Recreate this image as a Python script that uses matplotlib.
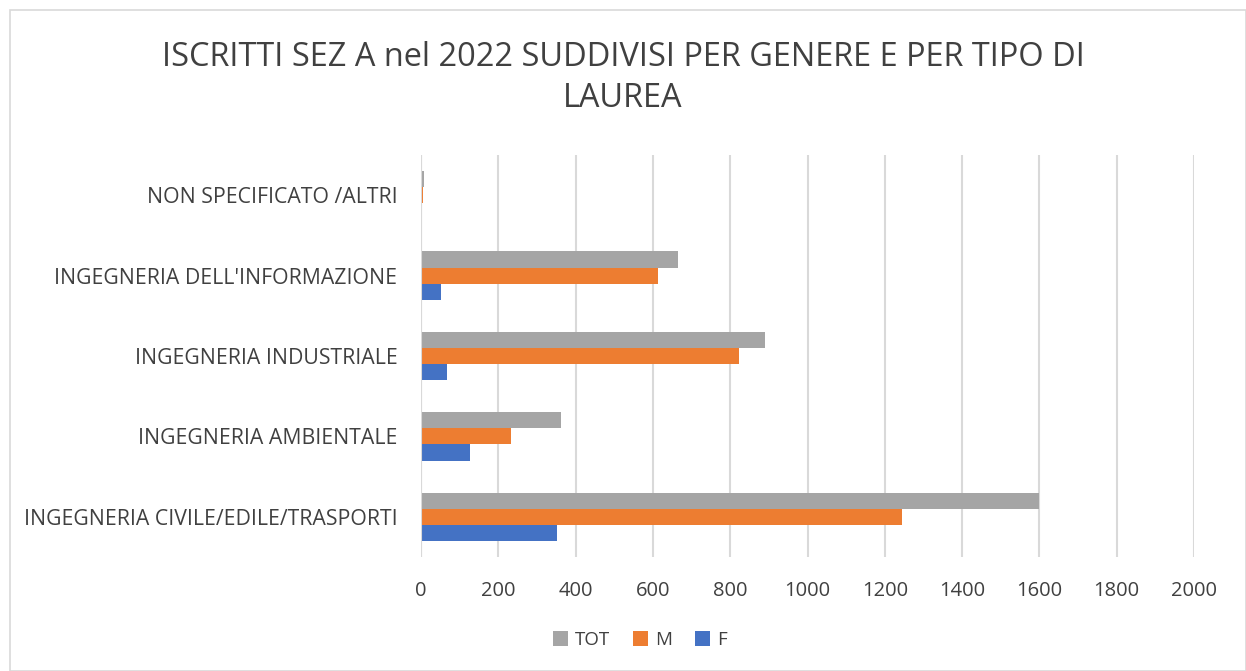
import numpy as np
import matplotlib.pyplot as plt
from matplotlib.patches import Rectangle

categories = ["INGEGNERIA CIVILE/EDILE/TRASPORTI", "INGEGNERIA AMBIENTALE",
              "INGEGNERIA INDUSTRIALE", "INGEGNERIA DELL'INFORMAZIONE",
              "NON SPECIFICATO /ALTRI"]
tot = [1598, 361, 889, 664, 7]
m = [1245, 233, 823, 612, 5]
f = [353, 128, 66, 52, 2]
x_ticks = [0, 200, 400, 600, 800, 1000, 1200, 1400, 1600, 1800, 2000]

plt.rcParams['font.family'] = ['Open Sans', 'DejaVu Sans']

fig = plt.figure(figsize=(12.46, 6.71), dpi=100)
ax = fig.add_axes([421 / 1246, 1 - 557 / 671, (1194 - 421) / 1246, (557 - 155) / 671])

y = np.arange(len(categories))
h = 0.2
ax.barh(y + h, tot, height=h, color='#a5a5a5', label='TOT', zorder=3)
ax.barh(y, m, height=h, color='#ed7d31', label='M', zorder=3)
ax.barh(y - h, f, height=h, color='#4472c4', label='F', zorder=3)

ax.set_xlim(0, 2000)
ax.set_ylim(-0.5, len(categories) - 0.5)
ax.set_xticks(x_ticks)
ax.set_yticks(y)
ax.set_yticklabels(categories)
ax.tick_params(axis='both', length=0, labelsize=14.5, colors='#404040')
ax.tick_params(axis='y', labelsize=15.3, pad=17)
ax.tick_params(axis='x', pad=17)
ax.grid(axis='x', color='#d9d9d9', linewidth=1.5, zorder=0)
for s in ax.spines.values():
    s.set_visible(False)
ax.axvline(0, color='#d9d9d9', linewidth=1.5, zorder=4)

fig.text(0.5, 1 - 78 / 671, "ISCRITTI SEZ A nel 2022 SUDDIVISI PER GENERE E PER TIPO DI\nLAUREA",
         ha='center', va='center', fontsize=23.4, color='#404040', linespacing=1.35)

fig.legend(loc='center', bbox_to_anchor=(640 / 1246, 1 - 640 / 671), ncol=3, frameon=False,
           fontsize=13.5, handlelength=0.8, handleheight=0.8, handletextpad=0.4, columnspacing=1.2,
           labelcolor='#404040')

fig.patches.append(Rectangle((10 / 1246, 0), 1 - 10 / 1246, 1 - 10 / 671, transform=fig.transFigure,
                             fill=False, edgecolor='#d9d9d9', linewidth=1.2))

fig.savefig('out.png', dpi=100)
